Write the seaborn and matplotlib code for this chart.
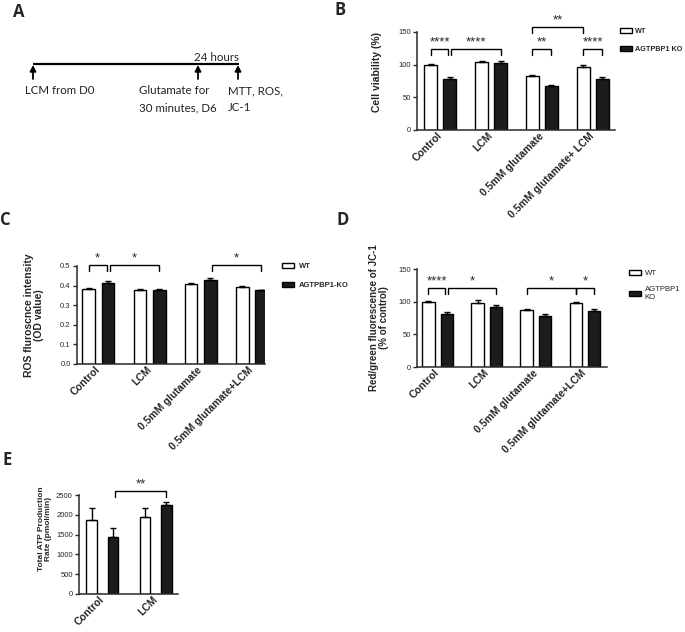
import numpy as np
import pandas as pd
import matplotlib
matplotlib.use("Agg")
import matplotlib.pyplot as plt
import seaborn as sns

# ---------------- data ----------------
groups4_b = ["Control", "LCM", "0.5mM glutamate", "0.5mM glutamate+ LCM"]
groups4 = ["Control", "LCM", "0.5mM glutamate", "0.5mM glutamate+LCM"]
groups2 = ["Control", "LCM"]
genotypes = ["WT", "KO"]

# B: cell viability (%)
b_wt = [100.0, 104.5, 82.0, 95.7]
b_ko = [78.3, 102.4, 67.6, 77.3]
b_wt_err = [1.5, 1.5, 1.5, 4.0]
b_ko_err = [3.0, 3.0, 1.5, 4.5]

# C: ROS fluorescence intensity (OD)
c_wt = [0.385, 0.380, 0.409, 0.392]
c_ko = [0.415, 0.380, 0.430, 0.377]
c_wt_err = [0.002, 0.003, 0.006, 0.005]
c_ko_err = [0.006, 0.004, 0.010, 0.003]

# D: JC-1 red/green (% of control)
d_wt = [100.0, 98.0, 87.5, 98.0]
d_ko = [81.0, 92.3, 77.5, 86.2]
d_wt_err = [1.5, 4.0, 2.0, 1.5]
d_ko_err = [2.5, 2.2, 3.5, 2.8]

# E: total ATP production rate (pmol/min)
e_wt = [1870, 1953]
e_ko = [1448, 2239]
e_wt_err = [293, 227]
e_ko_err = [210, 76]

# significance: (group_a, geno_a, group_b, geno_b, level, label)
b_sig = [(0, "WT", 0, "KO", 0, "****"), (0, "KO", 1, "KO", 0, "****"),
         (2, "WT", 2, "KO", 0, "**"), (3, "WT", 3, "KO", 0, "****"),
         (2, "WT", 3, "WT", 1, "**")]
c_sig = [(0, "WT", 0, "KO", 0, "*"), (0, "KO", 1, "KO", 0, "*"),
         (2, "KO", 3, "KO", 0, "*")]
d_sig = [(0, "WT", 0, "KO", 0, "****"), (0, "KO", 1, "KO", 0, "*"),
         (2, "WT", 3, "WT", 0, "*"), (3, "WT", 3, "KO", 0, "*")]
e_sig = [(0, "KO", 1, "KO", 0, "**")]

# ---------------- style ----------------
sns.set_style("ticks")
plt.rcParams["font.family"] = ["Liberation Sans", "DejaVu Sans"]
plt.rcParams["axes.linewidth"] = 1.0

W, H = 685, 632
fig = plt.figure(figsize=(W / 100, H / 100), dpi=100)


def px_axes(l, t, r, b):
    return fig.add_axes([l / W, 1 - b / H, (r - l) / W, (b - t) / H])


SPINE = "#2a2a2a"
PAL = {"WT": "white", "KO": "#1c1c1c"}


def draw_panel(ax, cats, wt, ko, wt_err, ko_err, ylim, yticks, ytl, xlim,
               width=0.75, gap=0.33):
    df = pd.DataFrame({
        "group": cats * 2,
        "genotype": ["WT"] * len(cats) + ["KO"] * len(cats),
        "value": list(wt) + list(ko),
    })
    sns.barplot(data=df, x="group", y="value", hue="genotype", order=cats,
                hue_order=genotypes, palette=PAL, edgecolor="black",
                linewidth=1.0, width=width, gap=gap, errorbar=None,
                legend=False, ax=ax)
    pos = {}
    for cont, geno, errs in zip(ax.containers, genotypes, [wt_err, ko_err]):
        xs, tops = [], []
        for i, p in enumerate(cont):
            xc = p.get_x() + p.get_width() / 2
            xs.append(xc)
            tops.append(p.get_height())
            pos[(i, geno)] = (xc, p.get_height())
        ax.errorbar(xs, tops, yerr=[np.zeros(len(errs)), errs], fmt="none",
                    ecolor="black", elinewidth=1.0, capsize=2.3, capthick=1.0,
                    zorder=1)
    ax.set_ylim(*ylim)
    ax.set_xlim(*xlim)
    ax.set_yticks(yticks)
    ax.set_yticklabels(ytl)
    sns.despine(ax=ax)
    for s in ["left", "bottom"]:
        ax.spines[s].set_color(SPINE)
        ax.spines[s].set_linewidth(1.1)
    ax.tick_params(axis="y", length=3, width=1.0, color=SPINE, labelsize=5.5,
                   pad=1.5)
    ax.tick_params(axis="x", length=0, pad=3)
    ax.set_xlabel("")
    ax.set_xticks(range(len(cats)))
    ax.set_xticklabels(cats, rotation=45, ha="right", va="center",
                       rotation_mode="anchor", fontsize=7.5, fontweight="bold")
    return pos


def brackets(ax, pos, sigs, ys, drop, star_off, fs=9.5):
    for ga, na, gb, nb, lvl, lab in sigs:
        x1 = pos[(ga, na)][0]
        x2 = pos[(gb, nb)][0]
        if na == "KO" and ga != gb:
            x1 += 0.03
        if nb == "KO" and ga == gb and any(s[0] == gb and s[1] == "KO" and s[0] != s[2] for s in sigs):
            x2 -= 0.03
        y = ys[lvl]
        ax.plot([x1, x1, x2, x2], [y - drop, y, y, y - drop], color="black",
                lw=1.0, clip_on=False, solid_joinstyle="miter")
        ax.text((x1 + x2) / 2, y + star_off, lab, ha="center", va="bottom",
                fontsize=fs, clip_on=False)


def legend(ax, x, y, labels, bold=True, fs=5.5, spacing=1.5, hl=1.6, tp=0.6):
    handles = [ax.containers[0][0], ax.containers[1][0]]
    leg = ax.legend(handles, labels, loc="upper left",
                    bbox_to_anchor=(x / W, 1 - y / H),
                    bbox_transform=fig.transFigure, frameon=False,
                    handlelength=hl, handleheight=0.65, handletextpad=tp,
                    borderpad=0, borderaxespad=0, labelspacing=spacing,
                    prop={"size": fs, "weight": "bold" if bold else "normal"})
    return leg


# ---------------- panel A ----------------
axA = px_axes(0, 0, 330, 130)
axA.set_xlim(0, 330)
axA.set_ylim(130, 0)
axA.axis("off")
fA = dict(family=["Lato", "DejaVu Sans"], fontsize=8.3, color="#222222")
axA.plot([33, 239], [64, 64], color="black", lw=1.6, solid_capstyle="butt")
for xa in [33, 198, 238]:
    axA.annotate("", xy=(xa, 65), xytext=(xa, 79),
                 arrowprops=dict(arrowstyle="-|>,head_length=0.35,head_width=0.18",
                                 color="black", lw=1.3, shrinkA=0, shrinkB=0))
axA.text(194, 61, "24 hours", ha="left", va="baseline", **fA)
axA.text(25, 94, "LCM from D0", ha="left", va="baseline", **fA)
axA.text(139, 94, "Glutamate for", ha="left", va="baseline", **fA)
axA.text(139, 111, "30 minutes, D6", ha="left", va="baseline", **fA)
axA.text(228, 94, "MTT, ROS,", ha="left", va="baseline", **fA)
axA.text(228, 111, "JC-1", ha="left", va="baseline", **fA)

# ---------------- panel B ----------------
axB = px_axes(417, 32, 615, 130)
posB = draw_panel(axB, groups4_b, b_wt, b_ko, b_wt_err, b_ko_err, (0, 150),
                  [0, 50, 100, 150], ["0", "50", "100", "150"], (-0.46, 3.44))
axB.set_ylabel("Cell viability (%)", fontsize=7.5, fontweight="bold")
axB.yaxis.set_label_coords(-0.175, 0.59)
brackets(axB, posB, b_sig, [124, 157.5], 9, 0.5)
legend(axB, 620, 28, ["WT", "AGTPBP1 KO"], fs=5.2, tp=0.5)

# ---------------- panel C ----------------
axC = px_axes(77, 266, 265, 364)
posC = draw_panel(axC, groups4, c_wt, c_ko, c_wt_err, c_ko_err, (0, 0.5),
                  [0, 0.1, 0.2, 0.3, 0.4, 0.5],
                  ["0.0", "0.1", "0.2", "0.3", "0.4", "0.5"], (-0.42, 3.26))
axC.set_ylabel("ROS fluroscnce intensity\n(OD value)", fontsize=7.5,
               fontweight="bold", linespacing=1.0)
axC.yaxis.set_label_coords(-0.176, 0.5)
brackets(axC, posC, c_sig, [0.505], 0.03, 0.002)
legend(axC, 282, 263, ["WT", "AGTPBP1-KO"])

# ---------------- panel D ----------------
axD = px_axes(417, 269, 607, 367)
posD = draw_panel(axD, groups4, d_wt, d_ko, d_wt_err, d_ko_err, (0, 150),
                  [0, 50, 100, 150], ["0", "50", "100", "150"], (-0.42, 3.45))
axD.set_ylabel("Red/green fluorescence of JC-1\n(% of control)", fontsize=7,
               fontweight="bold", linespacing=1.0)
axD.yaxis.set_label_coords(-0.147, 0.5)
brackets(axD, posD, d_sig, [121], 9, 0.5)
legend(axD, 629, 270, ["WT", "AGTPBP1\nKO"], bold=False, fs=5.6, spacing=1.1,
       hl=1.6, tp=0.4)

# ---------------- panel E ----------------
axE = px_axes(79, 495, 178, 594)
posE = draw_panel(axE, groups2, e_wt, e_ko, e_wt_err, e_ko_err, (0, 2500),
                  [0, 500, 1000, 1500, 2000, 2500],
                  ["0", "500", "1000", "1500", "2000", "2500"], (-0.44, 1.42),
                  width=0.8, gap=0.5)
axE.set_ylabel("Total ATP Production\nRate (pmol/min)", fontsize=6,
               fontweight="bold", linespacing=1.0)
axE.yaxis.set_label_coords(-0.27, 0.66)
brackets(axE, posE, e_sig, [2609], 150, 10)

# ---------------- panel letters ----------------
fL = dict(family=["Open Sans", "DejaVu Sans"], fontsize=12, fontweight="bold",
          ha="left", va="baseline")
for lab, x, y in [("A", 13, 17), ("B", 335, 15), ("C", 0, 225),
                  ("D", 337, 225), ("E", 3, 465)]:
    fig.text(x / W, 1 - y / H, lab, **fL)

fig.savefig("out.png", dpi=100)
